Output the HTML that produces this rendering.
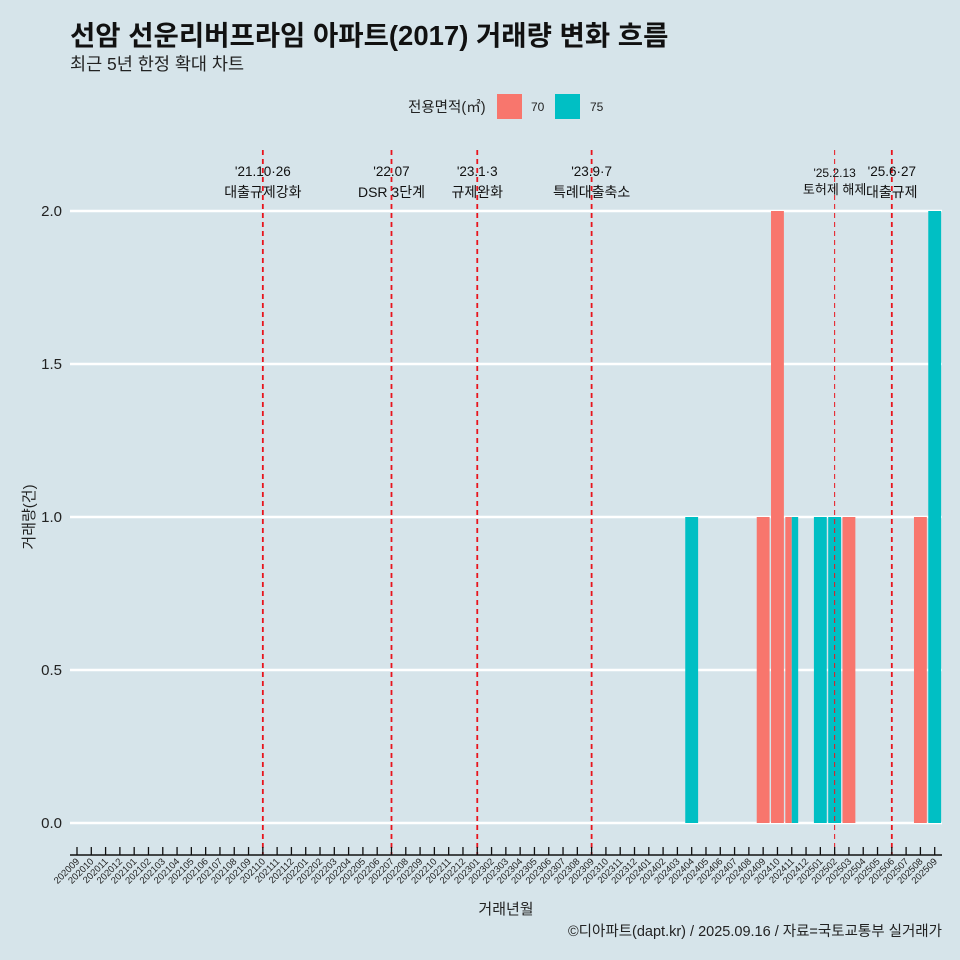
<!DOCTYPE html>
<html><head><meta charset="utf-8"><style>
body{margin:0;background:#d6e4ea}
svg{display:block;font-family:"Liberation Sans","Noto Sans CJK KR",sans-serif}
</style></head><body>
<svg id="c" width="960" height="960" viewBox="0 0 960 960">
<rect width="960" height="960" fill="#d6e4ea"/>
<text x="70" y="45" font-size="27.5" font-weight="bold" fill="#111">선암 선운리버프라임 아파트(2017) 거래량 변화 흐름</text>
<text x="70" y="70" font-size="17.5" fill="#222">최근 5년 한정 확대 차트</text>
<g>
<text x="408" y="112" font-size="14.5" fill="#222">전용면적(㎡)</text>
<rect x="497" y="94" width="25" height="25" fill="#f8766d"/>
<text x="531" y="111" font-size="12" fill="#222">70</text>
<rect x="555" y="94" width="25" height="25" fill="#00bfc4"/>
<text x="590" y="111" font-size="12" fill="#222">75</text>
</g>
<g id="grid"></g><g id="bars"></g><g id="events"></g><g id="axes"></g>
<text transform="translate(34,517) rotate(-90)" text-anchor="middle" font-size="15" fill="#222">거래량(건)</text>
<text x="506" y="914" text-anchor="middle" font-size="15" fill="#222">거래년월</text>
<text x="942" y="936" text-anchor="end" font-size="14.5" fill="#222">©디아파트(dapt.kr) / 2025.09.16 / 자료=국토교통부 실거래가</text>
</svg>
<script>
const months=[];for(let y=2020;y<=2025;y++)for(let m=1;m<=12;m++){const k=y*100+m;if(k>=202009&&k<=202509)months.push(String(k));}
const yTicks=[0,0.5,1,1.5,2];
const yTickLabels=["0.0","0.5","1.0","1.5","2.0"];
const seriesNames=["70","75"];
const series70={"202409":1,"202410":2,"202411":1,"202503":1,"202508":1};
const series75={"202404":1,"202411":1,"202501":1,"202502":1,"202509":2};
const eventMonths=["202110","202207","202301","202309","202502","202506"];
const eventDates=["'21.10·26","'22.07","'23.1·3","'23.9·7","'25.2.13","'25.6·27"];
const eventNames=["대출규제강화","DSR 3단계","규제완화","특례대출축소","토허제 해제","대출규제"];
const NS="http://www.w3.org/2000/svg";
const x0=77,step=(934.7-77)/60,y0=823,yScale=306;
const X=m=>x0+months.indexOf(m)*step;
const Y=v=>y0-v*yScale;
function mk(tag,attrs,parent,txt){const e=document.createElementNS(NS,tag);for(const k in attrs)e.setAttribute(k,attrs[k]);if(txt!=null)e.textContent=txt;document.getElementById(parent).appendChild(e);return e;}
yTicks.forEach((t,i)=>{
 const l=mk('line',{x1:70,x2:942,y1:Y(t),y2:Y(t),stroke:'#fff','stroke-width':2.5},'grid');
 
 
 const tx=mk('text',{x:62,y:Y(t)+5,'text-anchor':'end','font-size':15,fill:'#222'},'axes',yTickLabels[i]);
 
 
});
const bw=step*0.9;
months.forEach(m=>{
 const a=series70[m]||0,b=series75[m]||0;
 const both=a>0&&b>0;
 [[a,'#f8766d','70'],[b,'#00bfc4','75']].forEach(([v,c,n],j)=>{
  if(!v)return;
  let x=X(m)-bw/2,w=bw;
  if(both){w=bw/2;x=X(m)-bw/2+j*w;}
  const r=mk('rect',{x:x,y:Y(v),width:w,height:v*yScale,fill:c},'bars');
  
  
 });
});
eventMonths.forEach((m,i)=>{
 const x=X(m),thin=m==="202502";
 const l=mk('line',{x1:x,x2:x,y1:150,y2:855,stroke:'#e8141c','stroke-width':thin?1:1.8,'stroke-dasharray':'5,4'},'events');
 
 
 const fs=thin?12:13.5;
 const t1=mk('text',{x:x,y:thin?177:176,'text-anchor':'middle','font-size':fs,fill:'#111'},'events',eventDates[i]);
 
 
 const t2=mk('text',{x:x,y:thin?194:197,'text-anchor':'middle','font-size':thin?13:14,fill:'#111'},'events',eventNames[i]);
 
 
});
const ax=mk('line',{x1:70,x2:942,y1:855,y2:855,stroke:'#111','stroke-width':1.5},'axes');


months.forEach(m=>{
 const x=X(m);
 const t=mk('line',{x1:x,x2:x,y1:847,y2:855,stroke:'#111','stroke-width':1.3},'axes');
 
 
 const tx=mk('text',{transform:`translate(${x+3},862) rotate(-45)`,'text-anchor':'end','font-size':9.5,fill:'#222'},'axes',m);
 
 
});
</script>
</body></html>
